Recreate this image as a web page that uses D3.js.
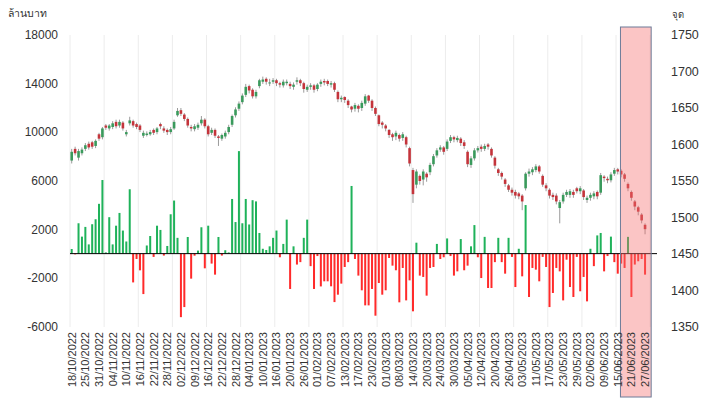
<!DOCTYPE html>
<html><head><meta charset="utf-8">
<script src="https://cdn.jsdelivr.net/npm/d3@7"></script>
<style>
html,body{margin:0;padding:0;background:#fff;}
svg{display:block;}
text{font-family:"Liberation Sans",Arial,sans-serif;}
</style></head>
<body>
<svg id="c" width="708" height="405"></svg>
<script>
const dates = ["18/10/2022","19/10/2022","20/10/2022","21/10/2022","25/10/2022","26/10/2022","27/10/2022","28/10/2022",
"31/10/2022","01/11/2022","02/11/2022","03/11/2022","04/11/2022","07/11/2022","08/11/2022","09/11/2022",
"10/11/2022","11/11/2022","14/11/2022","15/11/2022","16/11/2022","17/11/2022","18/11/2022","21/11/2022",
"22/11/2022","23/11/2022","24/11/2022","25/11/2022","28/11/2022","29/11/2022","30/11/2022","01/12/2022",
"02/12/2022","06/12/2022","07/12/2022","08/12/2022","09/12/2022","13/12/2022","14/12/2022","15/12/2022",
"16/12/2022","19/12/2022","20/12/2022","21/12/2022","22/12/2022","23/12/2022","26/12/2022","27/12/2022",
"28/12/2022","29/12/2022","30/12/2022","03/01/2023","04/01/2023","05/01/2023","06/01/2023","09/01/2023",
"10/01/2023","11/01/2023","12/01/2023","13/01/2023","16/01/2023","17/01/2023","18/01/2023","19/01/2023",
"20/01/2023","23/01/2023","24/01/2023","25/01/2023","26/01/2023","27/01/2023","30/01/2023","31/01/2023",
"01/02/2023","02/02/2023","03/02/2023","06/02/2023","07/02/2023","08/02/2023","09/02/2023","10/02/2023",
"13/02/2023","14/02/2023","15/02/2023","16/02/2023","17/02/2023","20/02/2023","21/02/2023","22/02/2023",
"23/02/2023","24/02/2023","27/02/2023","28/02/2023","01/03/2023","02/03/2023","03/03/2023","07/03/2023",
"08/03/2023","09/03/2023","10/03/2023","13/03/2023","14/03/2023","15/03/2023","16/03/2023","17/03/2023",
"20/03/2023","21/03/2023","22/03/2023","23/03/2023","24/03/2023","27/03/2023","28/03/2023","29/03/2023",
"30/03/2023","31/03/2023","03/04/2023","04/04/2023","05/04/2023","07/04/2023","10/04/2023","11/04/2023",
"12/04/2023","17/04/2023","18/04/2023","19/04/2023","20/04/2023","21/04/2023","24/04/2023","25/04/2023",
"26/04/2023","27/04/2023","28/04/2023","02/05/2023","03/05/2023","08/05/2023","09/05/2023","10/05/2023",
"11/05/2023","12/05/2023","15/05/2023","16/05/2023","17/05/2023","18/05/2023","19/05/2023","22/05/2023",
"23/05/2023","24/05/2023","25/05/2023","26/05/2023","29/05/2023","30/05/2023","31/05/2023","01/06/2023",
"02/06/2023","06/06/2023","07/06/2023","08/06/2023","09/06/2023","12/06/2023","13/06/2023","14/06/2023",
"15/06/2023","16/06/2023","19/06/2023","20/06/2023","21/06/2023","22/06/2023","23/06/2023","26/06/2023",
"27/06/2023","28/06/2023","29/06/2023","30/06/2023"];

const openP = [1578,1594,1582,1588,1594,1601,1603,1598,1614,1610,1626,1622,1624,1631,1626,1630,1614,1629,1632,1628,
1626,1612,1613,1614,1620,1617,1628,1622,1620,1617,1622,1640,1647,1641,1635,1624,1621,1623,1629,1634,
1625,1616,1620,1611,1608,1611,1617,1627,1640,1649,1658,1668,1680,1675,1666,1680,1686,1690,1684,1686,
1688,1684,1681,1684,1683,1679,1686,1688,1684,1675,1679,1681,1676,1683,1687,1687,1682,1684,1672,1662,
1665,1660,1652,1649,1653,1650,1656,1667,1660,1650,1640,1630,1626,1620,1614,1611,1613,1609,1610,1595,
1565,1545,1557,1552,1560,1562,1573,1585,1593,1596,1594,1605,1610,1606,1608,1603,1590,1572,1581,1592,
1597,1594,1600,1594,1582,1566,1561,1552,1544,1538,1535,1533,1530,1540,1560,1562,1565,1570,1557,1544,
1538,1531,1530,1513,1522,1531,1531,1535,1540,1536,1537,1524,1527,1529,1535,1534,1556,1553,1551,1560,
1566,1564,1559,1546,1535,1522,1514,1504,1490];
const highP = [1594,1597,1594,1596,1602,1604,1605,1607,1616,1624,1628,1628,1632,1634,1634,1632,1620,1638,1634,1630,
1628,1619,1618,1620,1622,1624,1630,1625,1622,1624,1634,1650,1650,1643,1637,1627,1628,1630,1639,1636,
1627,1623,1622,1613,1615,1619,1627,1641,1651,1659,1670,1683,1682,1677,1675,1690,1693,1692,1690,1691,
1690,1686,1689,1689,1686,1685,1692,1690,1686,1682,1684,1683,1684,1689,1690,1689,1687,1686,1674,1667,
1666,1662,1653,1657,1655,1660,1669,1668,1662,1652,1641,1632,1628,1621,1616,1619,1615,1617,1612,1597,
1568,1566,1559,1566,1562,1575,1587,1595,1599,1598,1607,1613,1612,1612,1610,1606,1592,1584,1595,1598,
1600,1601,1602,1596,1584,1568,1563,1554,1546,1541,1538,1535,1532,1562,1567,1569,1573,1572,1559,1547,
1540,1534,1533,1524,1534,1538,1539,1538,1542,1543,1539,1530,1534,1536,1537,1561,1558,1556,1562,1568,
1568,1566,1561,1548,1537,1524,1516,1506,1492];
const lowP = [1574,1585,1578,1585,1591,1593,1594,1595,1605,1607,1620,1619,1621,1622,1623,1619,1611,1626,1623,1621,
1617,1609,1611,1612,1613,1614,1621,1616,1613,1614,1620,1638,1639,1632,1623,1618,1618,1620,1626,1622,
1611,1613,1609,1598,1605,1608,1614,1624,1637,1646,1655,1665,1670,1663,1663,1677,1683,1682,1680,1683,
1680,1678,1678,1681,1676,1675,1682,1680,1671,1672,1675,1671,1673,1679,1681,1680,1678,1672,1658,1658,
1657,1650,1644,1645,1644,1646,1653,1657,1646,1639,1625,1622,1618,1609,1605,1606,1604,1605,1596,1570,
1520,1540,1545,1544,1549,1558,1570,1582,1590,1586,1591,1602,1603,1603,1598,1594,1569,1568,1578,1589,
1590,1591,1593,1582,1567,1557,1552,1542,1535,1530,1526,1525,1510,1537,1556,1558,1562,1560,1542,1536,
1526,1524,1518,1492,1519,1528,1527,1527,1533,1532,1524,1520,1523,1525,1525,1531,1549,1547,1548,1557,
1559,1555,1549,1536,1523,1510,1503,1492,1477];
const closeP = [1590,1588,1591,1593,1599,1596,1597,1605,1608,1622,1623,1626,1629,1625,1631,1622,1617,1633,1626,1624,
1620,1616,1615,1617,1616,1622,1625,1619,1617,1621,1631,1646,1642,1635,1626,1622,1625,1627,1634,1625,
1614,1620,1612,1609,1613,1616,1624,1639,1648,1656,1667,1679,1674,1666,1672,1688,1689,1686,1685,1688,
1684,1682,1686,1686,1680,1682,1688,1684,1676,1679,1681,1675,1682,1686,1685,1683,1684,1675,1662,1664,
1661,1654,1648,1654,1649,1657,1666,1660,1650,1642,1628,1627,1622,1613,1610,1616,1608,1614,1600,1574,
1532,1563,1550,1563,1555,1572,1584,1592,1596,1590,1604,1610,1607,1609,1602,1598,1573,1581,1592,1595,
1594,1598,1597,1585,1571,1561,1556,1546,1538,1534,1530,1529,1522,1560,1563,1566,1570,1563,1545,1540,
1530,1528,1522,1521,1531,1535,1536,1531,1536,1540,1528,1527,1531,1533,1529,1558,1554,1551,1559,1565,
1563,1559,1553,1540,1527,1515,1508,1496,1484];

const foreignNet = [380,-60,2500,1400,2200,760,2420,2830,4100,6060,100,3000,760,2300,3350,1900,1000,5300,-2370,-440,
-1375,-3330,670,1450,-270,2300,1950,-160,630,3240,4370,1300,-5230,-4400,1370,-2060,-170,250,2170,-1210,
2300,-820,-1730,1370,-160,280,100,4500,2600,8440,2500,4500,2400,4400,4300,1700,400,300,600,1300,
1900,-300,800,2800,-2910,600,-900,-700,1300,2800,-1030,-2910,-200,-2700,-2280,-2280,-2690,-3990,-3380,-2470,
-1100,-700,5570,-440,-1810,-3020,-4260,-4260,-2910,-5110,-2420,-3380,-3020,-360,-990,-1370,-4010,-1180,-3850,-2200,
-4750,900,-1810,-1920,-3460,-1180,-1100,800,-440,-300,1250,-200,-1810,-1460,1200,-1370,-990,600,2350,-300,
-2010,1380,-2830,-2830,-700,1300,-700,-1650,1300,-270,-2750,400,-1870,4000,-3570,-1180,-1320,-2280,-270,-1100,
-4400,-3240,-1180,-1460,-3850,-500,-2750,-3570,-270,-3100,-1920,-3930,400,-1030,1500,1700,-1460,-200,1400,-700,
-1650,-820,-1180,1380,-3570,-900,-630,-440,-1730];

const leftTicks = [-6000,-2000,2000,6000,10000,14000,18000];
const rightTicks = [1350,1400,1450,1500,1550,1600,1650,1700,1750];
const leftTitle = "ล้านบาท";
const rightTitle = "จุด";
const highlightFrom = "16/06/2023", highlightTo = "29/06/2023";

const svg = d3.select("#c");
const L = 70, R = 657;
const x = d3.scaleBand().domain(dates).range([L, R]).padding(0);
const bw = x.bandwidth();
const yL = d3.scaleLinear().domain([-6000, 18000]).range([326.5, 35]);
const yR = d3.scaleLinear().domain([1350, 1750]).range([327, 35]);

// vertical gridlines every 10 categories
const gridIdx = d3.range(0, dates.length + 1, 10);
svg.append("g").selectAll("line").data(gridIdx).join("line")
  .attr("x1", i => L + i * bw).attr("x2", i => L + i * bw)
  .attr("y1", 35).attr("y2", 327)
  .attr("stroke", "#ececec").attr("stroke-width", 1);

// bars
svg.append("g").selectAll("rect").data(foreignNet).join("rect")
  .attr("x", (d, i) => x(dates[i]) + bw / 2 - 1)
  .attr("width", 2)
  .attr("y", d => d >= 0 ? yL(d) : yL(0))
  .attr("height", d => Math.abs(yL(d) - yL(0)))
  .attr("fill", d => d >= 0 ? "#1fb25a" : "#ff2a2a");

// zero line
svg.append("line").attr("x1", L).attr("x2", R).attr("y1", yL(0)).attr("y2", yL(0))
  .attr("stroke", "#000").attr("stroke-width", 1);

// candles
const cg = svg.append("g");
closeP.forEach((c, i) => {
  const cx = x(dates[i]) + bw / 2;
  const o = openP[i], h = highP[i], l = lowP[i];
  cg.append("line").attr("x1", cx).attr("x2", cx).attr("y1", yR(h)).attr("y2", yR(l))
    .attr("stroke", "#9a9a9a").attr("stroke-width", 1);
  const top = yR(Math.max(o, c)), bot = yR(Math.min(o, c));
  cg.append("rect").attr("x", cx - 1.3).attr("width", 2.6)
    .attr("y", top).attr("height", Math.max(1, bot - top))
    .attr("fill", c >= o ? "#3a9a5c" : "#c4343b");
});

// highlight box
const hx0 = x(highlightFrom) + 1, hx1 = x(highlightTo) + 1;
svg.append("rect").attr("x", hx0).attr("y", 27).attr("width", hx1 - hx0).attr("height", 370)
  .attr("fill", "rgba(245,110,110,0.4)").attr("stroke", "#6d7b98").attr("stroke-width", 1);

// left axis labels
svg.append("g").selectAll("text").data(leftTicks).join("text")
  .attr("x", 58).attr("y", d => yL(d)).attr("dy", "0.35em")
  .attr("text-anchor", "end").attr("font-size", 12).attr("fill", "#333")
  .text(d => d);
// right axis labels
svg.append("g").selectAll("text").data(rightTicks).join("text")
  .attr("x", 671).attr("y", d => yR(d)).attr("dy", "0.35em")
  .attr("text-anchor", "start").attr("font-size", 12.5).attr("fill", "#333")
  .text(d => d);

svg.append("text").attr("x", 8).attr("y", 17).attr("font-size", 10.5).attr("fill", "#333")
  .attr("font-family", "Noto Sans, sans-serif").text(leftTitle);
svg.append("text").attr("x", 672).attr("y", 18).attr("font-size", 9.5).attr("fill", "#333")
  .attr("font-family", "Noto Sans, sans-serif").text(rightTitle);

// x labels every 4th category
const tickDates = dates.filter((d, i) => i % 4 === 0);
svg.append("g").selectAll("text").data(tickDates).join("text")
  .attr("transform", d => `translate(${x(d) + bw / 2 + 4},332) rotate(-90)`)
  .attr("text-anchor", "end").attr("font-size", 11).attr("fill", "#333")
  .text(d => d);
</script>
</body></html>
